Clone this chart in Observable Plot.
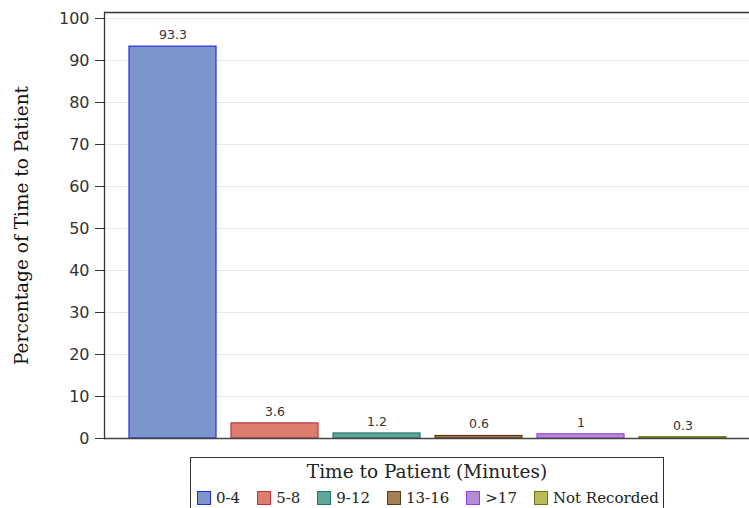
<!DOCTYPE html>
<html>
<head>
<meta charset="utf-8">
<script src="https://cdn.jsdelivr.net/npm/d3@7"></script>
<script src="https://cdn.jsdelivr.net/npm/@observablehq/plot@0.6"></script>
<style>
  html, body { margin: 0; padding: 0; background: #fff; }
  #chart svg { display: block; }
  #legend {
    margin-left: 190px; margin-top: 5px; width: 474px; box-sizing: border-box;
    border: 1px solid #333; font-family: "DejaVu Serif", serif; color: #222;
    padding: 2px 0 2px 0;
  }
  #legend .ttl { text-align: center; font-size: 18.5px; line-height: 24px; }
  #legend .row { display: flex; gap: 17px; padding-left: 6px; margin-top: 4px; font-size: 15px; line-height: 20px; align-items: center; }
  #legend .item { display: flex; align-items: center; gap: 5px; }
  #legend .sw { width: 12px; height: 12px; border: 1px solid; }
</style>
</head>
<body>
<div id="chart"></div>
<div id="legend"></div>
<script>
const categories = ["0-4", "5-8", "9-12", "13-16", ">17", "Not Recorded"];
const percentages = [93.3, 3.6, 1.2, 0.6, 1, 0.3];
const fillColors = ["#7B96CD", "#DD7D6E", "#62A59B", "#A47F55", "#B48DD3", "#B9BB5B"];
const strokeColors = ["#2B2BE0", "#C0363F", "#25766A", "#5E3B14", "#A03CE0", "#6B7418"];
const yTicks = [0, 10, 20, 30, 40, 50, 60, 70, 80, 90, 100];
const yTitle = "Percentage of Time to Patient";
const legendTitle = "Time to Patient (Minutes)";
const yMax = 101.43;

const data = categories.map((c, i) => ({cat: c, val: percentages[i], fill: fillColors[i], stroke: strokeColors[i]}));

const chart = Plot.plot({
  width: 749,
  height: 452,
  marginLeft: 104,
  marginRight: 0,
  marginTop: 12,
  marginBottom: 14,
  style: {fontFamily: "DejaVu Sans, sans-serif", fontSize: "16px", color: "#333", background: "#fff"},
  x: {domain: categories, paddingInner: 0.146, paddingOuter: 0.224, align: 0.53, axis: null},
  y: {domain: [0, yMax]},
  color: {type: "identity"},
  marks: [
    Plot.gridY(yTicks.filter(d => d > 0), {stroke: "#e8e8e8", strokeOpacity: 1}),
    Plot.axisY(yTicks, {tickSize: 9, tickPadding: 6, label: null, stroke: "#333", fill: "#333", fontSize: 16}),
    Plot.barY(data, {x: "cat", y: "val", fill: "fill", stroke: "stroke", strokeWidth: 1.2}),
    Plot.text(data, {x: "cat", y: "val", text: d => String(d.val), dy: -11.5, fontSize: 12.5, fill: "#333"}),
    Plot.ruleY([0], {stroke: "#444", strokeWidth: 1.3}),
    Plot.ruleY([yMax], {stroke: "#333", strokeWidth: 1.5}),
    Plot.frame({anchor: "left", stroke: "#333", strokeWidth: 1.3}),
    Plot.text([yTitle], {frameAnchor: "left", rotate: -90, dx: -82, textAnchor: "middle", fontFamily: "DejaVu Serif, serif", fontSize: 18.5, fill: "#111"})
  ]
});
document.getElementById("chart").appendChild(chart);

const lg = document.getElementById("legend");
const t = document.createElement("div"); t.className = "ttl"; t.textContent = legendTitle; lg.appendChild(t);
const row = document.createElement("div"); row.className = "row";
categories.forEach((c, i) => {
  const it = document.createElement("div"); it.className = "item";
  const sw = document.createElement("div"); sw.className = "sw";
  sw.style.background = fillColors[i]; sw.style.borderColor = strokeColors[i];
  const lb = document.createElement("span"); lb.textContent = c;
  it.appendChild(sw); it.appendChild(lb); row.appendChild(it);
});
lg.appendChild(row);
</script>
</body>
</html>
